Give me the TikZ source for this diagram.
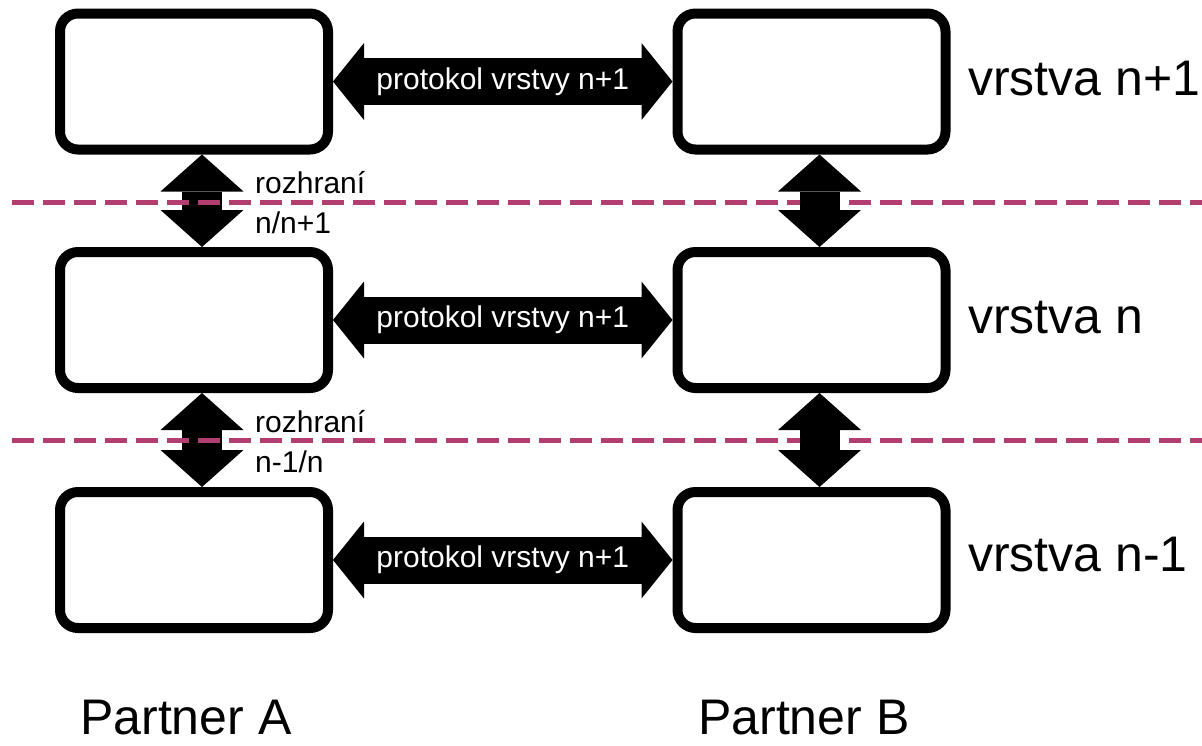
\documentclass[tikz,border=0pt]{standalone}
\usepackage{fontspec}
\setmainfont{Liberation Sans}
\usetikzlibrary{arrows.meta,positioning}
\definecolor{cutcol}{RGB}{178,62,112}
\tikzset{
  layerbox/.style={draw,line width=10pt,rounded corners=18pt,minimum width=268pt,minimum height=136pt,inner sep=0pt},
  protolink/.style={line width=47pt,{Triangle[length=31pt,width=77pt,line width=0pt]}-{Triangle[length=31pt,width=77pt,line width=0pt]}},
  iflink/.style={line width=40pt,{Triangle[length=37pt,width=83pt,line width=0pt]}-{Triangle[length=37pt,width=83pt,line width=0pt]}},
  cutline/.style={cutcol,line width=5pt,dash pattern=on 22pt off 9pt},
  bigtext/.style={font=\fontsize{50}{60}\selectfont,inner sep=0pt},
  smalltext/.style={font=\fontsize{30}{40}\selectfont,inner sep=0pt},
}

\begin{document}
\begin{tikzpicture}[x=1pt,y=-1pt]
\useasboundingbox (0,0) rectangle (1202,745);
% partner A
\node[layerbox] (A1) at (194,81.5) {};
\node[layerbox] (A2) at (194,320) {};
\node[layerbox] (A3) at (194,560) {};
% partner B
\node[layerbox] (B1) at (811.5,81.5) {};
\node[layerbox] (B2) at (811.5,320) {};
\node[layerbox] (B3) at (811.5,560) {};
% interfaces A
\draw[iflink] ([xshift=8pt]A1.south) -- ([xshift=8pt]A2.north);
\draw[iflink] ([xshift=8pt]A2.south) -- ([xshift=8pt]A3.north);
% layer cuts
\draw[cutline] (12,202) -- (1202,202);
\draw[cutline] (12,440) -- (1202,440);
% interfaces B
\draw[iflink] ([xshift=8pt]B1.south) -- ([xshift=8pt]B2.north);
\draw[iflink] ([xshift=8pt]B2.south) -- ([xshift=8pt]B3.north);
% protocols
\draw[protolink] (A1) -- (B1) node[midway,smalltext,text=white] {protokol vrstvy n+1};
\draw[protolink] (A2) -- (B2) node[midway,smalltext,text=white] {protokol vrstvy n+1};
\draw[protolink] (A3) -- (B3) node[midway,smalltext,text=white] {protokol vrstvy n+1};
% labels
\node[smalltext,anchor=north west,align=left] (if1) at (255,171) {rozhraní\\n/n+1};
\node[smalltext,anchor=north west,align=left] (if2) at (255,410) {rozhraní\\n-1/n};
\node[bigtext,anchor=base west] (lay1) at (968,95) {vrstva n+1};
\node[bigtext,anchor=base west] (lay2) at (968,333) {vrstva n};
\node[bigtext,anchor=base west] (lay3) at (968,571) {vrstva n-1};
\node[bigtext,anchor=base west] (pa) at (80,734) {Partner A};
\node[bigtext,anchor=base west] (pb) at (698,734) {Partner B};
\end{tikzpicture}
\end{document}
